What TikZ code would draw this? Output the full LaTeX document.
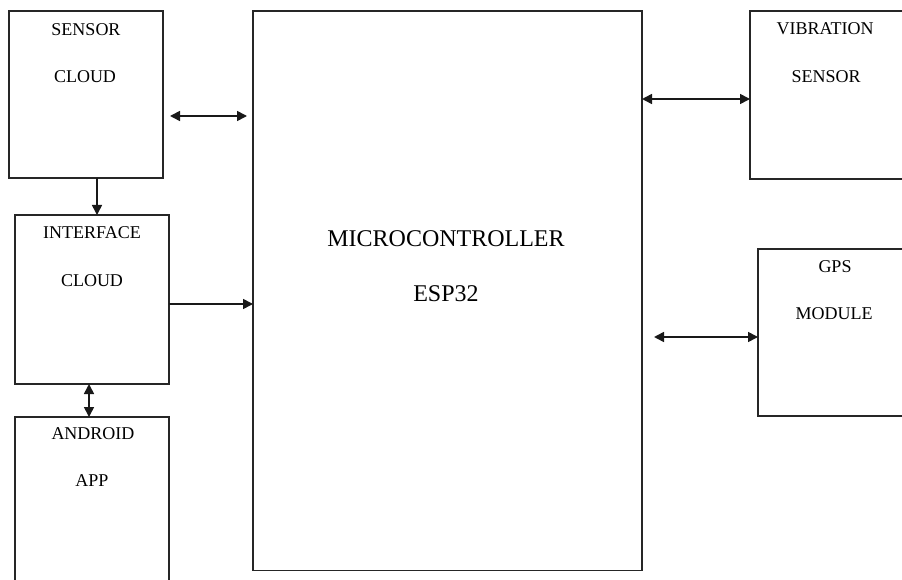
\documentclass[tikz,border=0pt]{standalone}
\usepackage{fontspec}
\setmainfont{Liberation Serif}
\usetikzlibrary{arrows.meta}
\begin{document}
\begin{tikzpicture}[x=1pt,y=-1pt,
  blk/.style={draw=black!85, line width=1.7pt, inner sep=0pt, outer sep=0pt},
  lbl/.style={anchor=base, inner sep=0pt, font=\fontsize{18}{21}\selectfont},
  biglbl/.style={anchor=base, inner sep=0pt, font=\fontsize{24}{28}\selectfont},
  tip/.style={},
  arr/.style={draw=black!90, line width=1.6pt, -{Triangle[length=10pt,width=10pt]}},
  darr/.style={draw=black!90, line width=1.6pt, {Triangle[length=10pt,width=10pt]}-{Triangle[length=10pt,width=10pt]}}]
\useasboundingbox (0,0) rectangle (902,580);
% boxes
\node[blk, minimum width=154pt, minimum height=167pt] (sc) at (86,94.5) {};
\node[blk, minimum width=154pt, minimum height=169pt] (ic) at (92,299.5) {};
\node[blk, minimum width=154pt, minimum height=203pt] (aa) at (92,518.5) {};
\node[blk, minimum width=389pt, minimum height=559.5pt] (mcu) at (447.5,290.75) {};
\node[blk, minimum width=170pt, minimum height=168pt] (vs) at (835,95) {};
\node[blk, minimum width=162pt, minimum height=167pt] (gps) at (839,332.5) {};
% labels
\node[lbl] (t1) at (86,36) {SENSOR};
\node[lbl] (t2) at (85,83) {CLOUD};
\node[lbl] (t3) at (92,239) {INTERFACE};
\node[lbl] (t4) at (92,286) {CLOUD};
\node[lbl] (t5) at (93,439) {ANDROID};
\node[lbl] (t6) at (92,486) {APP};
\node[lbl] (t7) at (825,35) {VIBRATION};
\node[lbl] (t8) at (826,83) {SENSOR};
\node[lbl] (t9) at (835,272) {GPS};
\node[lbl] (t10) at (834,319) {MODULE};
\node[biglbl] (m1) at (446,246) {MICROCONTROLLER};
\node[biglbl] (m2) at (446,301) {ESP32};
% connectors
\coordinate (cx1) at (97,0);
\coordinate (cx2) at (89,0);
\coordinate (cl1) at (170,116);
\coordinate (cr1) at (247,116);
\coordinate (cy3) at (0,304);
\coordinate (cy4) at (0,99);
\coordinate (cl5) at (654,337);
\draw[arr] (cx1 |- sc.south) -- (cx1 |- ic.north);
\draw[darr] (cx2 |- ic.south) -- (cx2 |- aa.north);
\draw[darr] (cl1) -- (cr1);
\draw[arr] (cy3 -| ic.east) -- (cy3 -| mcu.west);
\draw[darr] (cy4 -| mcu.east) -- (cy4 -| vs.west);
\draw[darr] (cl5) -- (cl5 -| gps.west);
\end{tikzpicture}
\end{document}
